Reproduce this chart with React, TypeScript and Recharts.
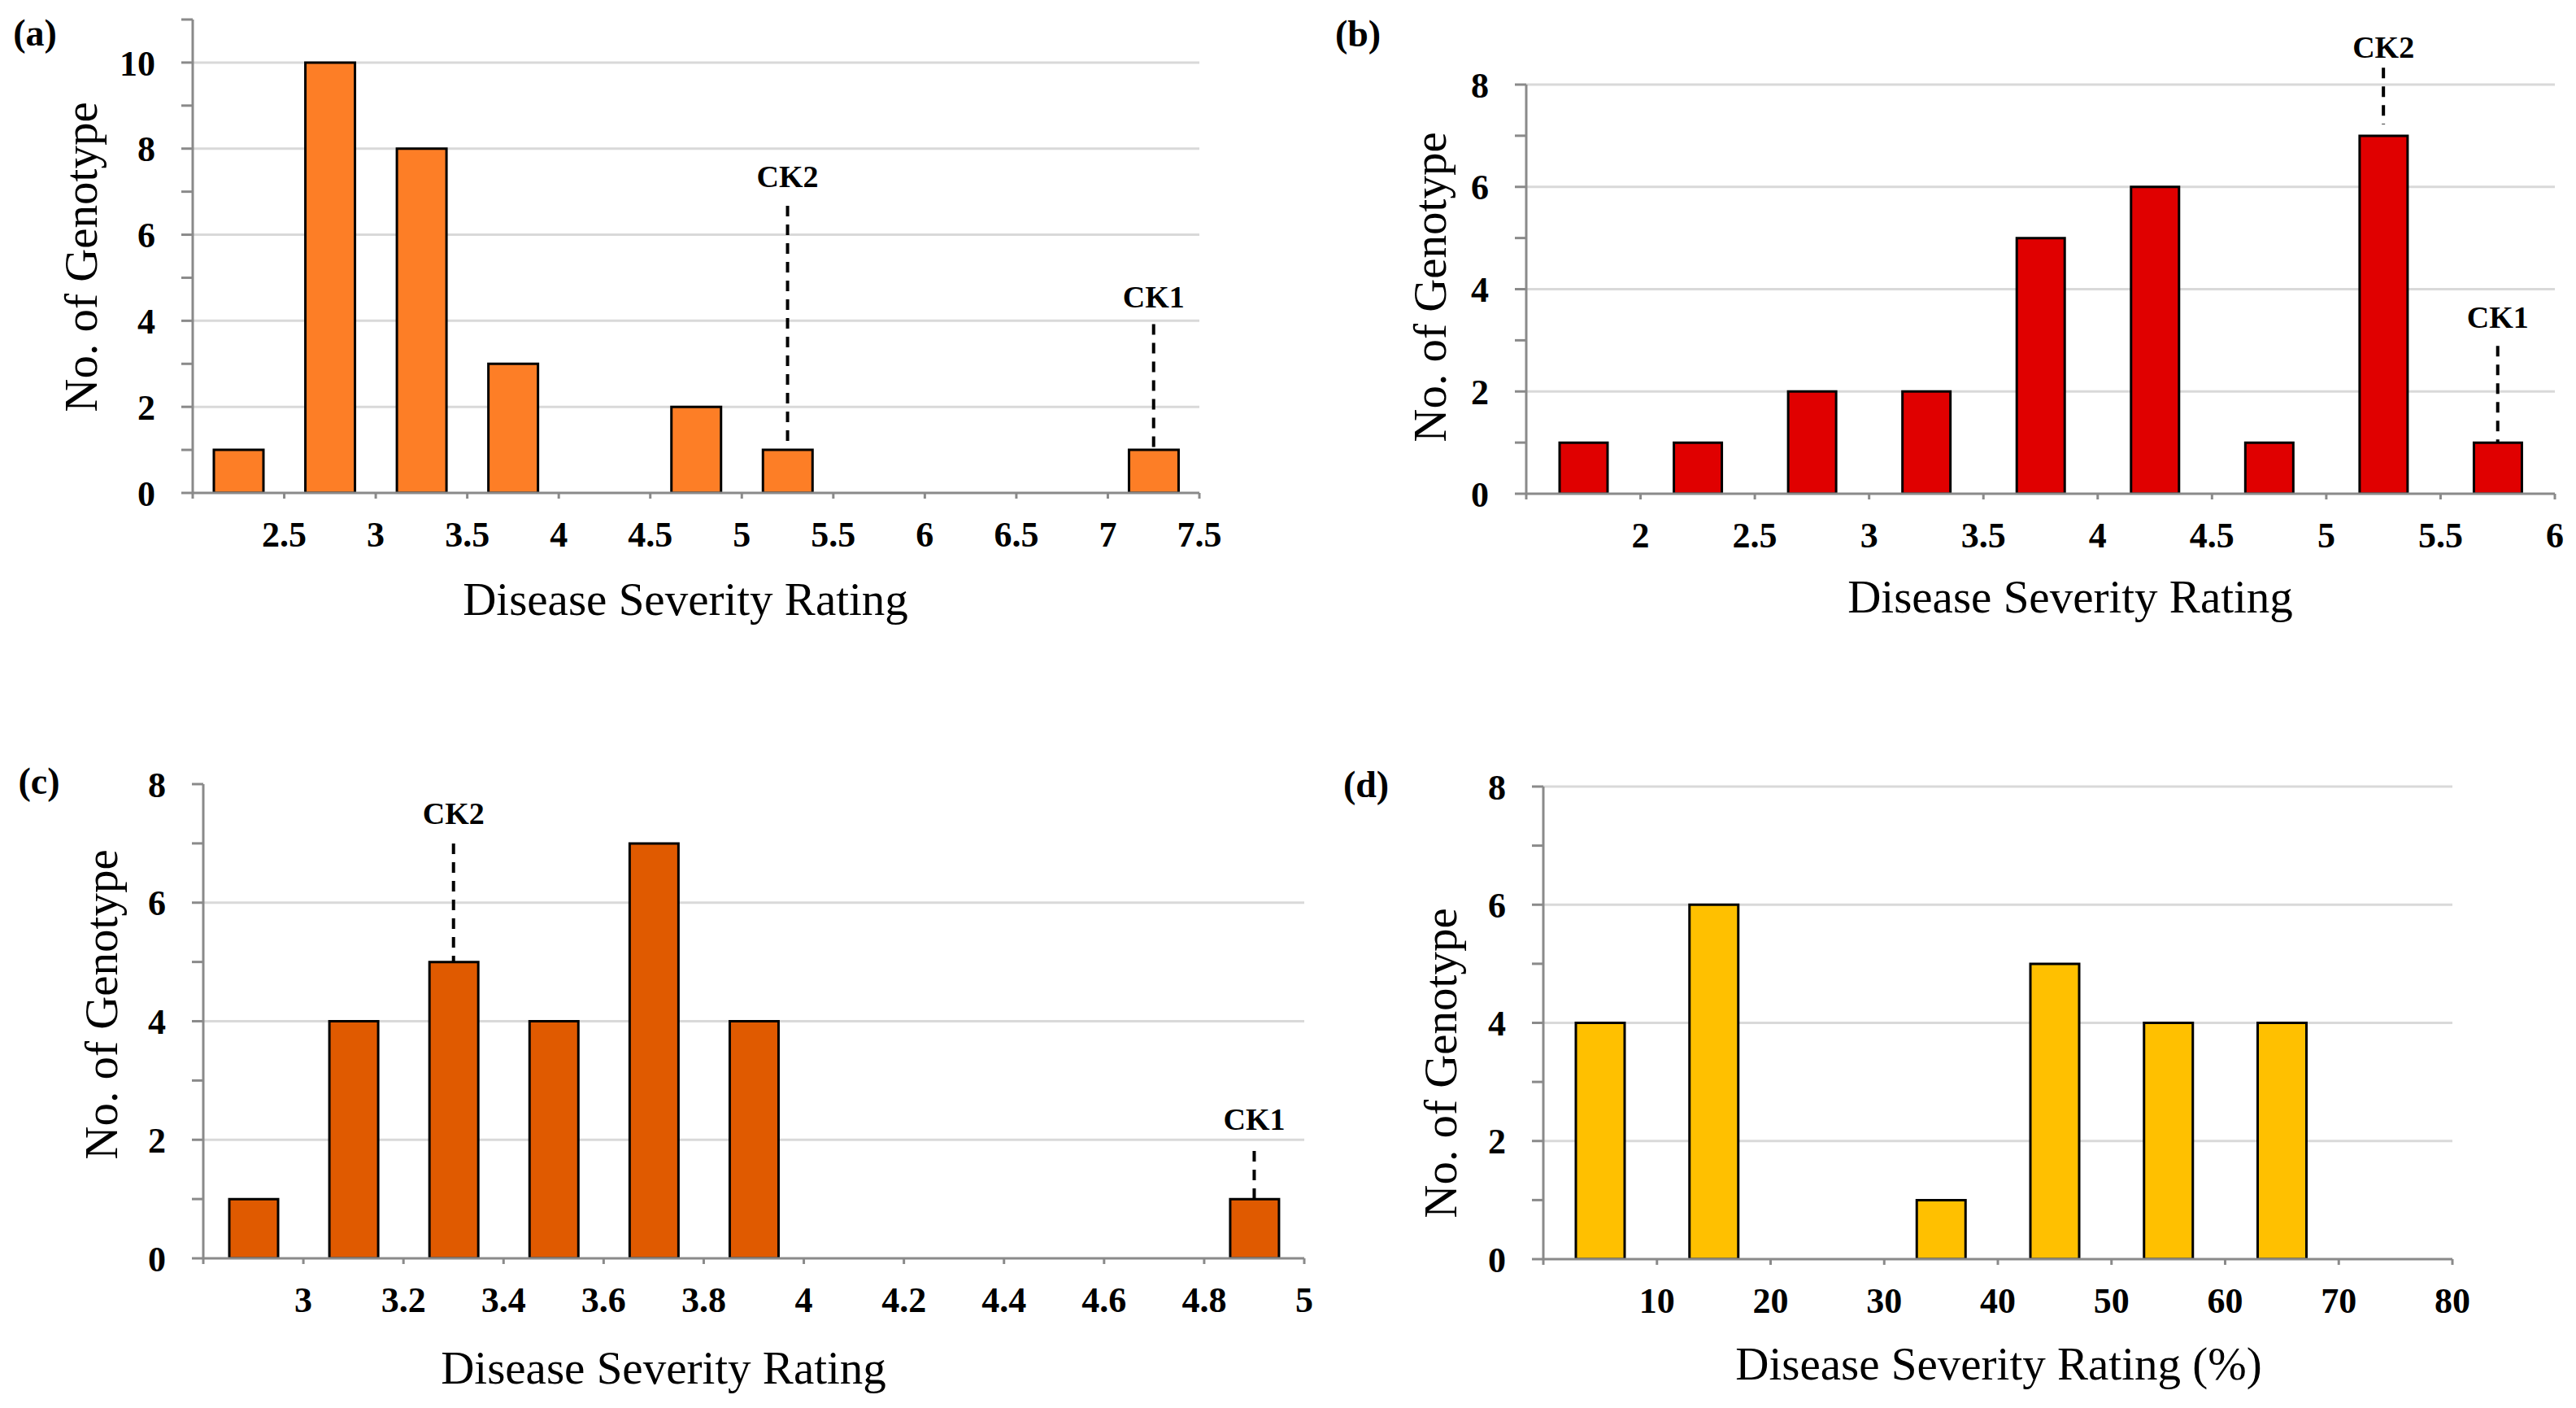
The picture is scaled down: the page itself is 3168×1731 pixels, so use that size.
import React from 'react';
import { BarChart, Bar, XAxis, YAxis, CartesianGrid, ReferenceLine, ReferenceDot } from 'recharts';

const FONT = "'Liberation Serif', 'Times New Roman', serif";

// ---------- Panel (a) ----------
const binCentersA = [2.25, 2.75, 3.25, 3.75, 4.25, 4.75, 5.25, 5.75, 6.25, 6.75, 7.25];
const countsA = [1, 10, 8, 3, 0, 2, 1, 0, 0, 0, 1];
const xTicksA = [2, 2.5, 3, 3.5, 4, 4.5, 5, 5.5, 6, 6.5, 7, 7.5];
const yTicksA = [0, 1, 2, 3, 4, 5, 6, 7, 8, 9, 10, 11];
const gridA = [2, 4, 6, 8, 10];
const checksA = [
  { name: 'CK2', x: 5.25, labelY: 7.11, lineTop: 6.67, lineEnd: 1 },
  { name: 'CK1', x: 7.25, labelY: 4.31, lineTop: 3.92, lineEnd: 1 },
];

// ---------- Panel (b) ----------
const binCentersB = [1.75, 2.25, 2.75, 3.25, 3.75, 4.25, 4.75, 5.25, 5.75];
const countsB = [1, 1, 2, 2, 5, 6, 1, 7, 1];
const xTicksB = [1.5, 2, 2.5, 3, 3.5, 4, 4.5, 5, 5.5, 6];
const yTicksB = [0, 1, 2, 3, 4, 5, 6, 7, 8];
const gridB = [2, 4, 6, 8];
const checksB = [
  { name: 'CK2', x: 5.25, labelY: 8.52, lineTop: 8.33, lineEnd: 7.22 },
  { name: 'CK1', x: 5.75, labelY: 3.24, lineTop: 2.89, lineEnd: 1 },
];

// ---------- Panel (c) ----------
const binCentersC = [2.9, 3.1, 3.3, 3.5, 3.7, 3.9, 4.1, 4.3, 4.5, 4.7, 4.9];
const countsC = [1, 4, 5, 4, 7, 4, 0, 0, 0, 0, 1];
const xTicksC = [2.8, 3, 3.2, 3.4, 3.6, 3.8, 4, 4.2, 4.4, 4.6, 4.8, 5];
const yTicksC = [0, 1, 2, 3, 4, 5, 6, 7, 8];
const gridC = [2, 4, 6];
const checksC = [
  { name: 'CK2', x: 3.3, labelY: 7.33, lineTop: 7.0, lineEnd: 5 },
  { name: 'CK1', x: 4.9, labelY: 2.17, lineTop: 1.81, lineEnd: 1 },
];

// ---------- Panel (d) ----------
const binCentersD = [5, 15, 25, 35, 45, 55, 65, 75];
const countsD = [4, 6, 0, 1, 5, 4, 4, 0];
const xTicksD = [0, 10, 20, 30, 40, 50, 60, 70, 80];
const yTicksD = [0, 1, 2, 3, 4, 5, 6, 7, 8];
const gridD = [2, 4, 6, 8];
const checksD: { name: string; x: number; labelY: number; lineTop: number; lineEnd: number }[] = [];

const panels = [
  {
    letter: '(a)', xTitle: 'Disease Severity Rating', yTitle: 'No. of Genotype',
    centers: binCentersA, counts: countsA, xTicks: xTicksA, yTicks: yTicksA, grid: gridA, checks: checksA,
    color: '#FD7E26', barSize: 61,
    left: 0, top: 0, width: 1584, height: 865,
    margin: { top: 24, right: 109, bottom: 179, left: 137 },
    letterPos: [43, 40], yTitlePos: [119, 316], xTitlePos: [843, 756],
  },
  {
    letter: '(b)', xTitle: 'Disease Severity Rating', yTitle: 'No. of Genotype',
    centers: binCentersB, counts: countsB, xTicks: xTicksB, yTicks: yTicksB, grid: gridB, checks: checksB,
    color: '#E00000', barSize: 59,
    left: 1584, top: 0, width: 1584, height: 865,
    margin: { top: 104, right: 26, bottom: 178, left: 193 },
    letterPos: [86, 41], yTitlePos: [194, 353], xTitlePos: [962, 753],
  },
  {
    letter: '(c)', xTitle: 'Disease Severity Rating', yTitle: 'No. of Genotype',
    centers: binCentersC, counts: countsC, xTicks: xTicksC, yTicks: yTicksC, grid: gridC, checks: checksC,
    color: '#E05A00', barSize: 60,
    left: 0, top: 865, width: 1640, height: 866,
    margin: { top: 99, right: 36, bottom: 104, left: 150 },
    letterPos: [48, 95], yTitlePos: [144, 370], xTitlePos: [816, 836],
  },
  {
    letter: '(d)', xTitle: 'Disease Severity Rating (%)', yTitle: 'No. of Genotype',
    centers: binCentersD, counts: countsD, xTicks: xTicksD, yTicks: yTicksD, grid: gridD, checks: checksD,
    color: '#FFC000', barSize: 60,
    left: 1584, top: 865, width: 1584, height: 866,
    margin: { top: 102, right: 152, bottom: 103, left: 214 },
    letterPos: [96, 99], yTitlePos: [207, 442], xTitlePos: [874, 831],
  },
];

const AXIS_COLOR = '#8a8a8a';
const tickStyle = { fill: '#000', fontSize: 44, fontWeight: 700, fontFamily: FONT };

function Panel({ cfg }: { cfg: any }) {
  const data = cfg.centers.map((c: number, i: number) => ({ bin: c, count: cfg.counts[i] }));
  const xMin = cfg.xTicks[0];
  const xMax = cfg.xTicks[cfg.xTicks.length - 1];
  const yMax = cfg.yTicks[cfg.yTicks.length - 1];
  const gridGen = ({ yAxis, offset }: any) => {
    const s = yAxis && yAxis.scale;
    if (typeof s === 'function') return cfg.grid.map((v: number) => s(v));
    if (s && typeof s.map === 'function') return cfg.grid.map((v: number) => s.map(v));
    return cfg.grid.map((v: number) => offset.top + offset.height * (1 - v / yMax));
  };
  return (
    <div style={{ position: 'absolute', left: cfg.left, top: cfg.top, width: cfg.width, height: cfg.height }}>
      <BarChart width={cfg.width} height={cfg.height} data={data} margin={cfg.margin} barSize={cfg.barSize}>
        <CartesianGrid vertical={false} stroke="#d9d9d9" strokeWidth={3} horizontalCoordinatesGenerator={gridGen} />
        <Bar dataKey="count" fill={cfg.color} stroke="#000" strokeWidth={3} isAnimationActive={false} />
        <XAxis
          type="number"
          dataKey="bin"
          domain={[xMin, xMax]}
          ticks={cfg.xTicks}
          interval={0}
          allowDataOverflow
          height={80}
          tickSize={7}
          tickMargin={28}
          stroke={AXIS_COLOR}
          strokeWidth={3}
          tick={tickStyle}
          tickFormatter={(v: number, i: number) => (i === 0 ? '' : String(v))}
        />
        <YAxis
          type="number"
          domain={[0, yMax]}
          ticks={cfg.yTicks}
          interval={0}
          allowDataOverflow
          width={100}
          tickSize={14}
          tickMargin={32}
          stroke={AXIS_COLOR}
          strokeWidth={3}
          tick={tickStyle}
          tickFormatter={(v: number) => (v % 2 === 0 ? String(v) : '')}
        />
        {cfg.checks.map((m: any) => (
          <ReferenceLine
            key={'l' + m.name}
            segment={[{ x: m.x, y: m.lineTop }, { x: m.x, y: m.lineEnd }]}
            stroke="#000"
            strokeWidth={4}
            strokeDasharray="13 10"
            ifOverflow="visible"
          />
        ))}
        {cfg.checks.map((m: any) => (
          <ReferenceDot
            key={'d' + m.name}
            x={m.x}
            y={m.labelY}
            r={1}
            ifOverflow="visible"
            shape={(p: any) => (
              <text x={p.cx} y={p.cy} textAnchor="middle" fontFamily={FONT} fontWeight={700} fontSize={38} fill="#000">
                {m.name}
              </text>
            )}
          />
        ))}
      </BarChart>
      <svg
        width={cfg.width}
        height={cfg.height}
        style={{ position: 'absolute', left: 0, top: 0, pointerEvents: 'none', overflow: 'visible' }}
      >
        <text x={cfg.letterPos[0]} y={cfg.letterPos[1]} textAnchor="middle" dominantBaseline="central"
          fontFamily={FONT} fontWeight={700} fontSize={46} fill="#000">{cfg.letter}</text>
        <text x={cfg.yTitlePos[0]} y={cfg.yTitlePos[1]} textAnchor="middle"
          transform={`rotate(-90 ${cfg.yTitlePos[0]} ${cfg.yTitlePos[1]})`}
          fontFamily={FONT} fontSize={57} fill="#000">{cfg.yTitle}</text>
        <text x={cfg.xTitlePos[0]} y={cfg.xTitlePos[1]} textAnchor="middle"
          fontFamily={FONT} fontSize={57} fill="#000">{cfg.xTitle}</text>
      </svg>
    </div>
  );
}

export default function App() {
  return (
    <div style={{ position: 'absolute', left: 0, top: 0, width: 3168, height: 1731, background: '#fff', overflow: 'hidden' }}>
      {panels.map((p) => (
        <Panel key={p.letter} cfg={p} />
      ))}
    </div>
  );
}
